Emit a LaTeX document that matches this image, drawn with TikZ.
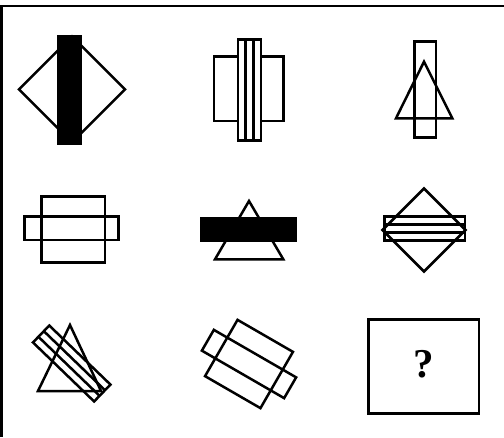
\documentclass[tikz,border=0pt]{standalone}
\usepackage{fontspec}
\setmainfont{Liberation Serif}
\begin{document}
\begin{tikzpicture}[x=1pt,y=-1pt,
  shp/.style={draw=black,line width=2.5pt},
  frm/.style={draw=black,line width=2.6pt},
  qmark/.style={font=\bfseries\fontsize{41}{41}\selectfont,inner sep=0pt}]
\useasboundingbox (0,0) rectangle (504,437);
% frame (top and left edges)
\draw[frm] (1.2,437) -- (1.2,6) -- (504,6);

% row 1, col 1: diamond with black bar
\draw[shp] (19,89.3) -- (72,36.3) -- (125,89.3) -- (72,142.3) -- cycle;
\fill[black] (56.7,35) rectangle (81.7,145);

% row 1, col 2: square with striped tall bar
\draw[shp] (214,56.7) rectangle (283.7,121);
\draw[shp,fill=white] (238,39.3) rectangle (261,140.3);
\draw[shp] (245.7,39.3) -- (245.7,140.3);
\draw[shp] (253.3,39.3) -- (253.3,140.3);

% row 1, col 3: tall bar with triangle
\draw[shp] (414.7,41.7) rectangle (436,137.3);
\draw[shp] (424,61.7) -- (452.3,118.3) -- (396,118.3) -- cycle;

% row 2, col 1: two rectangles
\draw[shp] (41.7,196.7) rectangle (105,262.7);
\draw[shp] (24.3,216.7) rectangle (118.3,240);

% row 2, col 2: triangle with black bar
\draw[shp] (249,201) -- (283.3,259.3) -- (215,259.3) -- cycle;
\fill[black] (200.3,217) rectangle (297,242.3);

% row 2, col 3: diamond with striped bar
\draw[shp] (382.5,230) -- (424,188.5) -- (465.5,230) -- (424,271.5) -- cycle;
\draw[shp] (384.3,216.5) rectangle (465,240.5);
\draw[shp] (384.3,224.5) -- (465,224.5);
\draw[shp] (384.3,232.5) -- (465,232.5);

% row 3, col 1: triangle with tilted striped bar
\draw[shp] (70,325) -- (101,391) -- (38,391) -- cycle;
\begin{scope}[shift={(71.7,363.5)},rotate=-44]
  \draw[shp] (-42.5,-11.75) rectangle (42.5,11.75);
  \draw[shp] (-42.5,-3.9) -- (42.5,-3.9);
  \draw[shp] (-42.5,3.9) -- (42.5,3.9);
\end{scope}

% row 3, col 2: tilted square with long bar
\begin{scope}[shift={(249,364)},rotate=-30]
  \draw[shp] (-32,-32.5) rectangle (32,32.5);
  \draw[shp] (-47.5,-12) rectangle (47.5,12);
\end{scope}

% row 3, col 3: question box
\draw[shp] (368.3,319.3) rectangle (479,413.3);
\node[qmark] (q) at (423.5,364.5) {?};
\end{tikzpicture}
\end{document}
